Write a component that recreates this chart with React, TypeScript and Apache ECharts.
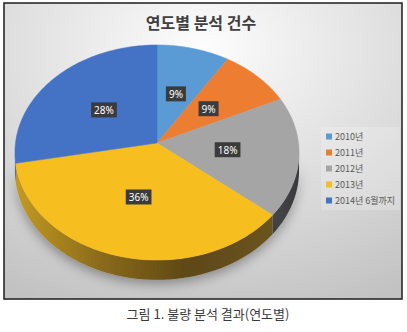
import React, { useEffect, useRef } from 'react';
import * as echarts from 'echarts';

const CATEGORIES = ['2010년', '2011년', '2012년', '2013년', '2014년 6월까지'];
const VALUES = [9, 9, 18, 36, 28];
const COLORS = ['#5B9BD5', '#ED7D31', '#A5A5A5', '#F6BE1F', '#4472C4'];
const SIDE_STOPS: string[][] = [
  ['#3d6f9f', '#2f5a82'],
  ['#a85420', '#8a4418'],
  ['#46474a', '#38393c'],
  ['#c29a22', '#8a6a1a', '#5e4818', '#6a5420'],
  ['#2f5290', '#264478'],
];

// view geometry of the tilted pie
const CX = 157;
const CY = 143;
const RX = 141.5;
const RY = 106.7;
const PERSP = 0.0884;
const DEPTH = 18;

function proj(r: number, deg: number): [number, number, number] {
  const rad = (deg * Math.PI) / 180;
  const X = r * Math.sin(rad);
  const Z = -r * Math.cos(rad);
  const w = 1 - PERSP * Z;
  return [CX + (RX * X) / w, CY + (RY * Z) / w, w];
}

function arc(a0: number, a1: number): number[][] {
  const n = Math.max(2, Math.ceil(Math.abs(a1 - a0)));
  const pts: number[][] = [];
  for (let k = 0; k <= n; k++) {
    const a = a0 + ((a1 - a0) * k) / n;
    pts.push(proj(1, a));
  }
  return pts;
}

function stopsOf(cols: string[]) {
  return cols.map((c, k) => ({ offset: cols.length === 1 ? 0 : k / (cols.length - 1), color: c }));
}

export default function App() {
  const ref = useRef<HTMLDivElement>(null);
  useEffect(() => {
    if (!ref.current) return;
    const chart = echarts.init(ref.current, null, { renderer: 'svg' });
    const total = VALUES.reduce((s, v) => s + v, 0);
    const cum: number[] = [];
    VALUES.reduce((s, v, i) => {
      cum[i] = s;
      return s + v;
    }, 0);
    const visA = (Math.acos(-PERSP) * 180) / Math.PI;
    const visB = 360 - visA;

    const sideSeries: any = {
      type: 'custom',
      name: 'side',
      coordinateSystem: 'none',
      z: 2,
      silent: true,
      data: VALUES.map((v, i) => [v, cum[i], total, i]),
      renderItem: (params: any, api: any) => {
        const v = api.value(0);
        const start = api.value(1);
        const tot = api.value(2);
        const idx = api.value(3);
        const a0 = Math.max((start / tot) * 360, visA);
        const a1 = Math.min(((start + v) / tot) * 360, visB);
        if (a1 <= a0) return { type: 'group', children: [] };
        const top = arc(a0, a1);
        const bottom = top
          .slice()
          .reverse()
          .map((p) => [p[0], p[1] + DEPTH / p[2]]);
        const pts = top.map((p) => [p[0], p[1]]).concat(bottom);
        return {
          type: 'polygon',
          shape: { points: pts },
          style: {
            fill: new echarts.graphic.LinearGradient(0, 0, 1, 0, stopsOf(SIDE_STOPS[idx])),
            shadowBlur: 12,
            shadowColor: 'rgba(0,0,0,0.35)',
            shadowOffsetY: 4,
          },
        };
      },
    };

    const topSeries = CATEGORIES.map((name, i) => ({
      type: 'custom',
      name,
      coordinateSystem: 'none',
      z: 3,
      itemStyle: { color: COLORS[i] },
      data: [[VALUES[i], cum[i], total]],
      renderItem: (params: any, api: any) => {
        const v = api.value(0);
        const start = api.value(1);
        const tot = api.value(2);
        const a0 = (start / tot) * 360;
        const a1 = ((start + v) / tot) * 360;
        const pts = [[CX, CY]].concat(arc(a0, a1).map((p) => [p[0], p[1]]));
        const lp = proj(0.5, (a0 + a1) / 2);
        return {
          type: 'group',
          children: [
            {
              type: 'polygon',
              shape: { points: pts },
              style: { fill: COLORS[i], stroke: COLORS[i], lineWidth: 0.5 },
            },
            {
              type: 'text',
              x: lp[0],
              y: lp[1],
              z2: 10,
              style: {
                text: Math.round((v / tot) * 100) + '%',
                fill: '#ffffff',
                fontSize: 10,
                fontFamily: 'Noto Sans',
                backgroundColor: '#3b3b3b',
                padding: [3, 3, 2, 3],
                align: 'center',
                verticalAlign: 'middle',
              },
            },
          ],
        };
      },
    }));

    chart.setOption({
      animation: false,
      color: COLORS,
      title: [
        {
          text: '연도별 분석 건수',
          left: 196,
          top: 9,
          textAlign: 'center',
          textStyle: {
            fontSize: 16,
            fontWeight: 'bold',
            color: '#404040',
            fontFamily: 'Noto Sans CJK KR',
          },
        },
        {
          text: '그림 1. 불량 분석 결과(연도별)',
          left: 203,
          top: 302,
          textAlign: 'center',
          textStyle: {
            fontSize: 13,
            fontWeight: 'normal',
            color: '#3a3a3a',
            fontFamily: 'Noto Sans CJK KR',
          },
        },
      ],
      legend: {
        data: CATEGORIES,
        orient: 'vertical',
        left: 321,
        top: 127,
        padding: 5,
        itemWidth: 6,
        itemHeight: 6,
        itemGap: 7,
        icon: 'rect',
        backgroundColor: 'rgba(255,255,255,0.2)',
        selectedMode: false,
        textStyle: { fontSize: 9, color: '#595959', fontFamily: 'Noto Sans CJK KR', padding: [0, 0, 0, -2] },
      },
      graphic: [
        {
          type: 'rect',
          z: -10,
          shape: { x: 4, y: 3, width: 398, height: 296 },
          style: {
            fill: {
              type: 'radial',
              x: 0.5,
              y: 0.15,
              r: 0.95,
              colorStops: [
                { offset: 0, color: '#fdfdfd' },
                { offset: 1, color: '#c2c2c2' },
              ],
            },
            stroke: '#1c1c1c',
            lineWidth: 1.5,
          },
        },
      ],
      series: [sideSeries, ...topSeries],
    });
    return () => chart.dispose();
  }, []);
  return (
    <div
      ref={ref}
      style={{ position: 'absolute', left: 0, top: 0, width: 407, height: 332, background: '#ffffff' }}
    />
  );
}
